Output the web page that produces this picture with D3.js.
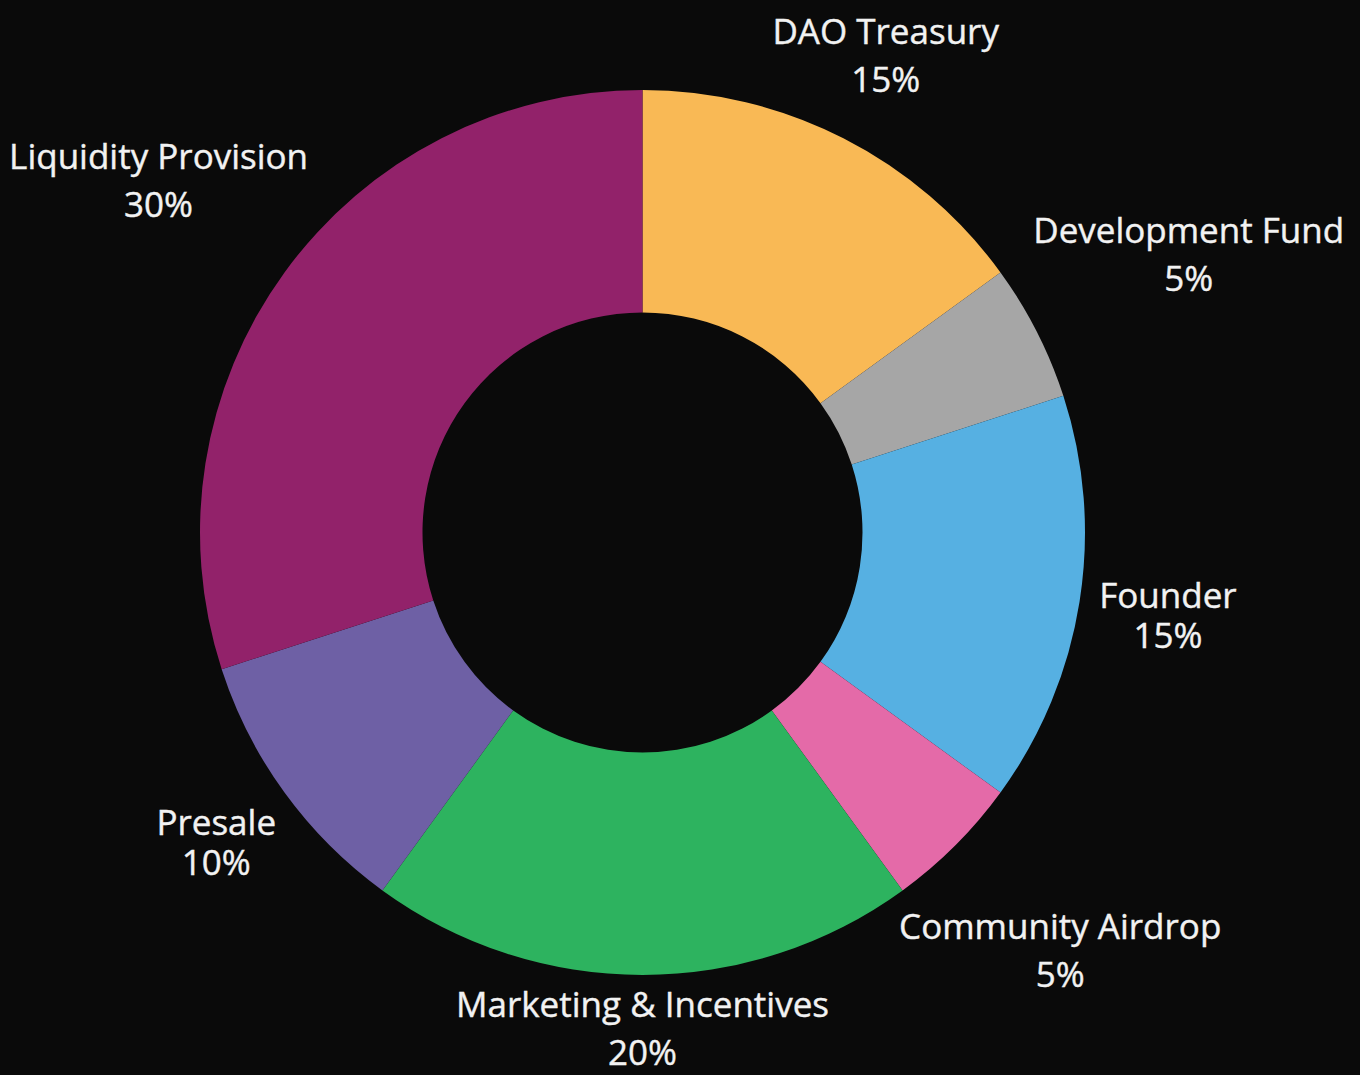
<!DOCTYPE html>
<html>
<head>
<meta charset="utf-8">
<script src="https://cdn.jsdelivr.net/npm/d3@7"></script>
<style>
  html, body { margin: 0; padding: 0; background: #0a0a0a; }
  svg { display: block; }
</style>
</head>
<body>
<svg id="chart" width="1360" height="1075"></svg>
<script>
// ---- data ----
const categories = ["DAO Treasury", "Development Fund", "Founder", "Community Airdrop", "Marketing & Incentives", "Presale", "Liquidity Provision"];
const shares = [15, 5, 15, 5, 20, 10, 30];
const sliceColors = ["#F9B955", "#A6A6A6", "#56B0E2", "#E46AA8", "#2DB35F", "#6E60A5", "#92226A"];

// ---- layout ----
const W = 1360, H = 1075;
const cx = 642.5, cy = 532.5;
const outerR = 442.5, innerR = 220;
const labelGap = 17;
const fontSize = 35;
const capH = 0.714 * fontSize;

const svg = d3.select("#chart");
svg.append("rect").attr("width", W).attr("height", H).attr("fill", "#0a0a0a");

const g = svg.append("g").attr("transform", `translate(${cx},${cy})`);

const pie = d3.pie().sort(null).value(d => d.value);
const rows = categories.map((c, i) => ({ name: c, value: shares[i], color: sliceColors[i] }));
const arcs = pie(rows);
const arc = d3.arc().innerRadius(innerR).outerRadius(outerR);

g.selectAll("path.slice")
  .data(arcs)
  .join("path")
  .attr("class", "slice")
  .attr("d", arc)
  .attr("fill", d => d.data.color);

// labels: block placed along mid-angle so that its nearest point is at outerR + gap
const tight = new Set(["Founder", "Presale"]);
arcs.forEach(a => {
  const mid = (a.startAngle + a.endAngle) / 2;
  const ux = Math.sin(mid), uy = -Math.cos(mid);
  const lineGap = tight.has(a.data.name) ? 40 : 48;
  const t = g.append("text")
    .attr("text-anchor", "middle")
    .attr("font-family", "'Open Sans', sans-serif")
    .attr("font-size", fontSize)
    .attr("fill", "#f2f2f2")
    .attr("stroke", "#f2f2f2")
    .attr("stroke-width", 0.4);
  const l1 = t.append("tspan").attr("x", 0).attr("y", 0).text(a.data.name);
  const l2 = t.append("tspan").attr("x", 0).attr("y", lineGap).text(a.data.value + "%");
  const w = Math.max(l1.node().getComputedTextLength(), l2.node().getComputedTextLength());
  // glyph box relative to anchor (x=0 center, first baseline y=0)
  const top = -capH, bottom = lineGap;
  const bh = bottom - top;
  const target = outerR + labelGap;
  function nearestDist(d) {
    const bxc = d * ux, byc = d * uy; // box center
    const x0 = bxc - w / 2, x1 = bxc + w / 2, y0 = byc - bh / 2, y1 = byc + bh / 2;
    const nx = Math.max(x0, Math.min(0, x1));
    const ny = Math.max(y0, Math.min(0, y1));
    return Math.hypot(nx, ny);
  }
  let lo = 0, hi = 1500;
  for (let k = 0; k < 60; k++) {
    const m = (lo + hi) / 2;
    if (nearestDist(m) < target) lo = m; else hi = m;
  }
  const bxc = lo * ux, byc = lo * uy;
  const ax = bxc, ay = byc - bh / 2 - top;
  t.attr("transform", `translate(${ax},${ay})`);
});
</script>
</body>
</html>
